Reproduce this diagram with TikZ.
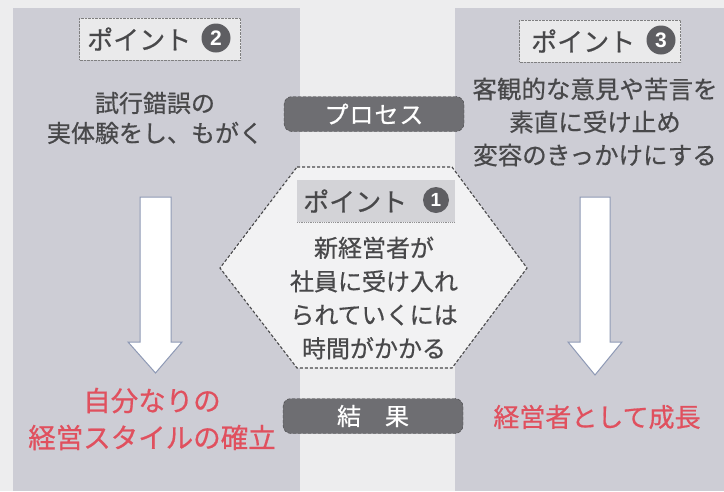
\documentclass[tikz,border=0pt]{standalone}
\usepackage{fontspec}
\setmainfont{Noto Sans CJK JP}[FakeBold=0.6]
\newfontfamily\numfont{Liberation Sans}
\definecolor{bgc}{HTML}{EDEDEE}
\definecolor{panelc}{HTML}{CDCDD5}
\definecolor{txtc}{HTML}{48484A}
\definecolor{redc}{HTML}{E0505E}
\definecolor{pillc}{HTML}{6E6E72}
\definecolor{numc}{HTML}{5E5E62}
\definecolor{boxc}{HTML}{EAEAEB}
\definecolor{hexlab}{HTML}{D3D3D7}
\definecolor{hexfill}{HTML}{F2F2F3}
\definecolor{arrowc}{HTML}{8E99B5}
\tikzset{
  ptbox/.style={draw=txtc!70, densely dotted, fill=boxc, minimum width=161pt, minimum height=42pt, inner sep=0pt},
  pttext/.style={text=txtc, font=\fontsize{26}{26}\selectfont, inner sep=0pt},
  ptnum/.style={circle, fill=numc, text=white, minimum size=29pt, inner sep=0pt, font=\numfont\bfseries\fontsize{21}{21}\selectfont},
  pill/.style={rounded corners=8pt, fill=pillc, draw=pillc!60!black, densely dashed, text=white, minimum width=180pt, minimum height=35pt, inner sep=0pt, font=\fontsize{24}{24}\selectfont\addfontfeature{LetterSpace=4}},
  bodytext/.style={text=txtc, align=center, inner sep=0pt},
  redtext/.style={text=redc, align=center, inner sep=0pt},
  blockarrow/.style={fill=white, draw=arrowc, line width=1pt, line join=miter},
}
\begin{document}
\begin{tikzpicture}[x=1pt,y=-1pt]
\useasboundingbox (0,0) rectangle (724,491);
\fill[bgc] (0,0) rectangle (724,491);
% side panels
\fill[panelc] (13,8) rectangle (300,491);
\fill[panelc] (455,8) rectangle (724,491);

% point 2 label
\node[ptbox] (p2box) at (160,39) {};
\node[pttext, anchor=west] (p2txt) at (87,39) {ポイント};
\node[ptnum] (p2num) at (216,38) {2};

% point 3 label
\node[ptbox] (p3box) at (600,41) {};
\node[pttext, anchor=west] (p3txt) at (531,41) {ポイント};
\node[ptnum] (p3num) at (661,40) {3};

% texts
\node[bodytext, font=\fontsize{24}{30}\selectfont] (t2) at (155,118) {試行錯誤の\\実体験をし、もがく};
\node[bodytext, font=\fontsize{24.5}{33}\selectfont] (t3) at (595,122) {客観的な意見や苦言を\\素直に受け止め\\変容のきっかけにする};

% process pill
\node[pill] (proc) at (374,114) {プロセス};

% arrows
\draw[blockarrow] (140,197) -- (171,197) -- (171,342) -- (182,342) -- (155.5,373) -- (128,342) -- (140,342) -- cycle;
\draw[blockarrow] (580,197) -- (610,197) -- (610,342) -- (622,342) -- (595,375) -- (568,342) -- (580,342) -- cycle;

% hexagon
\draw[fill=hexfill, draw=txtc, densely dashed, line width=1.1pt] (297,167) -- (452,167) -- (527,268) -- (452,368) -- (297,368) -- (220,268) -- cycle;
\fill[hexlab] (297,180) rectangle (455,222);
\draw[txtc!60, densely dotted, line width=0.8pt] (297,222) -- (455,222);
\node[pttext, anchor=west] (p1txt) at (303,201) {ポイント};
\node[ptnum, minimum size=26pt, font=\numfont\bfseries\fontsize{19}{19}\selectfont] (p1num) at (436,200) {1};
\node[bodytext, font=\fontsize{24}{33.5}\selectfont] (t1) at (374,298) {新経営者が\\社員に受け入れ\\られていくには\\時間がかかる};

% result
\node[pill] (res) at (373,416) {結\hspace{1em}果};
\node[redtext, font=\fontsize{27.5}{37}\selectfont] (r2) at (152,419) {自分なりの\\経営スタイルの確立};
\node[redtext, font=\fontsize{26}{26}\selectfont] (r3) at (597,417) {経営者として成長};
\end{tikzpicture}
\end{document}
